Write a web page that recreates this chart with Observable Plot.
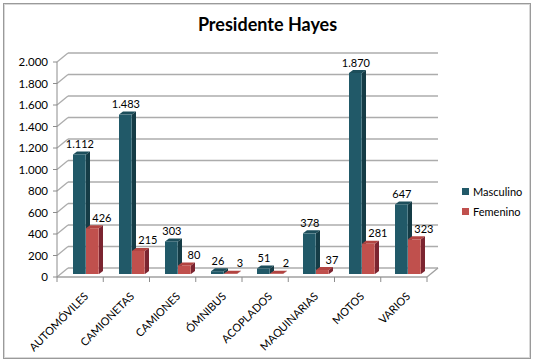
<!DOCTYPE html>
<html>
<head>
<meta charset="utf-8">
<script src="https://cdn.jsdelivr.net/npm/d3@7"></script>
<script src="https://cdn.jsdelivr.net/npm/@observablehq/plot@0.6"></script>
<style>
  html, body { margin: 0; padding: 0; background: #fff; }
  #wrap { position: relative; width: 535px; height: 363px; overflow: hidden; font-family: Lato, "Liberation Sans", sans-serif; }
  #frame { position: absolute; left: 3px; top: 3px; width: 526px; height: 354px; border: 1px solid #9a9a9a; box-shadow: 0 0 0 1px #d8d8d8 inset; }
  #title { position: absolute; left: 0; top: 13px; width: 535px; text-align: center; font-weight: bold; font-size: 18px; color: #000; }
  #chart { position: absolute; left: 0; top: 40px; }
  #legend { position: absolute; left: 462px; top: 181px; font-size: 11px; color: #000; }
  #legend div { display: flex; align-items: center; height: 20px; }
  #legend span.sw { display: inline-block; width: 7px; height: 7px; margin-right: 4px; }
</style>
</head>
<body>
<div id="wrap">
  <div id="frame"></div>
  <div id="title">Presidente Hayes</div>
  <div id="chart"></div>
  <div id="legend"></div>
</div>
<script>
// ---- data ----
const categories = ["AUTOMÓVILES", "CAMIONETAS", "CAMIONES", "ÓMNIBUS", "ACOPLADOS", "MAQUINARIAS", "MOTOS", "VARIOS"];
const masculino = [1112, 1483, 303, 26, 51, 378, 1870, 647];
const femenino = [426, 215, 80, 3, 2, 37, 281, 323];
const seriesNames = ["Masculino", "Femenino"];
const yTicks = [0, 200, 400, 600, 800, 1000, 1200, 1400, 1600, 1800, 2000];

// ---- styles ----
const colors = {
  Masculino: {front: "#215968", top: "#1d4e5b", side: "#153c46"},
  Femenino: {front: "#c0504d", top: "#b24441", side: "#7b2430"}
};
const BAR_W = 13;           // px width of each bar face
const INSET = {Masculino: 13, Femenino: 26};
const DEPTH_X = 4, DEPTH_Y = 3;   // bar depth
const WALL_X = 11, FRONT_DY = 3, BACK_DY = -6; // chart box depth

const fmt = d3.formatLocale({decimal: ",", thousands: ".", grouping: [3]}).format(",d");

const rows = [];
categories.forEach((c, i) => {
  rows.push({cat: c, series: "Masculino", value: masculino[i]});
  rows.push({cat: c, series: "Femenino", value: femenino[i]});
});

const W = 535, H = 323;
const mL = 58.5, mR = 106.5, mT = 19, mB = 89;

// back wall gridlines, floor, axis lines (decoration through the y scale)
function frameDeco(index, scales, values, dims) {
  const y = scales.y;
  const x0 = dims.marginLeft - 1.5;
  const x1 = dims.width - dims.marginRight - 1.5;
  const bw = (x1 - x0) / categories.length;
  const g = d3.create("svg:g").attr("fill", "none");
  const grid = "#acacac";
  for (const t of yTicks) {
    const yf = y(t) + FRONT_DY, yb = y(t) + BACK_DY;
    g.append("line").attr("x1", x0 + WALL_X).attr("x2", x1 + WALL_X).attr("y1", yb).attr("y2", yb)
      .attr("stroke", grid).attr("stroke-width", 1.6);
    g.append("line").attr("x1", x0).attr("x2", x0 + WALL_X).attr("y1", yf).attr("y2", yb)
      .attr("stroke", grid).attr("stroke-width", 1.3);
    g.append("line").attr("x1", x0 - 4).attr("x2", x0).attr("y1", yf).attr("y2", yf)
      .attr("stroke", "#8c8c8c").attr("stroke-width", 1);
  }
  const yf0 = y(0) + FRONT_DY, yb0 = y(0) + BACK_DY;
  g.append("line").attr("x1", x0).attr("x2", x1).attr("y1", yf0).attr("y2", yf0).attr("stroke", "#a0a0a0").attr("stroke-width", 1.3);
  g.append("line").attr("x1", x1).attr("x2", x1 + WALL_X).attr("y1", yf0).attr("y2", yb0).attr("stroke", "#a0a0a0").attr("stroke-width", 1.3);
  g.append("line").attr("x1", x0).attr("x2", x0).attr("y1", y(2000) + FRONT_DY).attr("y2", yf0).attr("stroke", "#8c8c8c").attr("stroke-width", 1);
  for (let i = 0; i <= categories.length; i++) {
    const xx = x0 + i * bw;
    g.append("line").attr("x1", xx).attr("x2", xx).attr("y1", yf0).attr("y2", yf0 + 5).attr("stroke", "#8c8c8c").attr("stroke-width", 1);
  }
  return g.node();
}

// top and side faces of the bars (through the x and y scales)
function depthFaces(index, scales, values, dims) {
  const x = scales.x, y = scales.y;
  const g = d3.create("svg:g");
  for (const s of seriesNames) {
    for (const r of rows.filter(d => d.series === s)) {
      const xl = x(r.cat) + INSET[s], xr = xl + BAR_W;
      const yt = y(r.value), yb = y(0);
      g.append("path")
        .attr("d", `M${xl},${yt}L${xl + DEPTH_X},${yt - DEPTH_Y}L${xr + DEPTH_X},${yt - DEPTH_Y}L${xr},${yt}Z`)
        .attr("fill", colors[s].top);
      g.append("path")
        .attr("d", `M${xr},${yt}L${xr + DEPTH_X},${yt - DEPTH_Y}L${xr + DEPTH_X},${yb - DEPTH_Y}L${xr},${yb}Z`)
        .attr("fill", colors[s].side);
    }
  }
  return g.node();
}

const bandW = (W - mL - mR) / categories.length;

const plot = Plot.plot({
  width: W,
  height: H,
  marginLeft: mL,
  marginRight: mR,
  marginTop: mT,
  marginBottom: mB,
  style: {fontFamily: "Lato, 'Liberation Sans', sans-serif", fontSize: "11px", color: "#000", background: "transparent"},
  x: {type: "band", domain: categories, padding: 0, axis: null},
  y: {domain: [0, 2000], axis: null},
  marks: [
    frameDeco,
    depthFaces,
    Plot.barY(rows.filter(d => d.series === "Masculino"), {
      x: "cat", y: "value", fill: colors.Masculino.front,
      insetLeft: INSET.Masculino, insetRight: bandW - INSET.Masculino - BAR_W
    }),
    Plot.barY(rows.filter(d => d.series === "Femenino"), {
      x: "cat", y: "value", fill: colors.Femenino.front,
      insetLeft: INSET.Femenino, insetRight: bandW - INSET.Femenino - BAR_W
    }),
    Plot.text(rows.filter(d => d.series === "Masculino"), {
      x: "cat", y: "value", text: d => fmt(d.value),
      dx: INSET.Masculino + BAR_W / 2 - bandW / 2, dy: -10.5, fontSize: 11, fill: "#000"
    }),
    Plot.text(rows.filter(d => d.series === "Femenino"), {
      x: "cat", y: "value", text: d => fmt(d.value),
      dx: INSET.Femenino + BAR_W / 2 - bandW / 2 + 9, dy: -10.5, fontSize: 11, fill: "#000"
    }),
    Plot.text(yTicks, {
      y: d => d, text: d => fmt(d), frameAnchor: "left",
      dx: -11, dy: FRONT_DY, textAnchor: "end", fontSize: 11.5, fill: "#000"
    }),
    Plot.text(categories, {
      x: d => d, y: d => 0, text: d => d, rotate: -45, textAnchor: "end",
      dx: 3, dy: 20, fontSize: 11, fill: "#000"
    })
  ]
});

document.getElementById("chart").appendChild(plot);

const legend = document.getElementById("legend");
for (const s of seriesNames) {
  const row = document.createElement("div");
  row.innerHTML = `<span class="sw" style="background:${colors[s].front}"></span>${s}`;
  legend.appendChild(row);
}
</script>
</body>
</html>
